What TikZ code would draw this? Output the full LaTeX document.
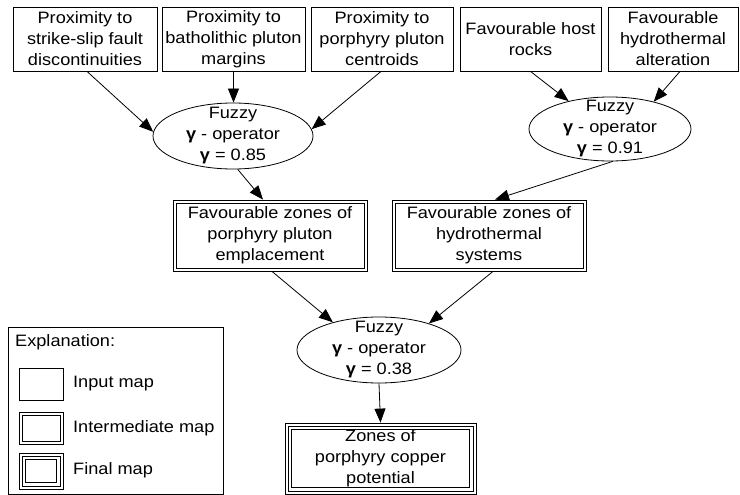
\documentclass[tikz,border=0pt]{standalone}
\usepackage{fontspec}
\setmainfont{Liberation Sans}[FakeStretch=1.1]
\usetikzlibrary{arrows.meta,shapes.geometric}

\begin{document}
\begin{tikzpicture}[x=1pt,y=-1pt,
  font=\fontsize{16.5}{21}\selectfont,
  every node/.style={align=center, inner sep=0pt},
  frame/.style={draw, line width=0.8pt},
  inbox/.style={frame, minimum height=64pt},
  midbox/.style={frame, minimum height=71pt},
  fuzzy/.style={draw, ellipse, line width=0.8pt, inner xsep=-60pt, inner ysep=-40pt},
  link/.style={-{Triangle[length=14pt,width=11pt]}, line width=0.8pt},
  legtext/.style={anchor=west}
]
\useasboundingbox (0,0) rectangle (740,495);

% inner frame line, inset from a box's outer border
\def\inset#1#2{%
  \draw[line width=0.8pt] ([shift={(#2pt,-#2pt)}]#1.north west)
    rectangle ([shift={(-#2pt,#2pt)}]#1.south east);}

% input maps
\node[inbox, minimum width=144pt] (b1) at (85,39)
  {Proximity to\\strike-slip fault\\discontinuities};
\node[inbox, minimum width=143pt] (b2) at (233.5,39)
  {Proximity to\\batholithic pluton\\margins};
\node[inbox, minimum width=142pt] (b3) at (382,39)
  {Proximity to\\porphyry pluton\\centroids};
\node[inbox, minimum width=141pt] (b4) at (530.5,39)
  {Favourable host\\rocks};
\node[inbox, minimum width=130pt] (b5) at (673,39)
  {Favourable\\hydrothermal\\alteration};

% fuzzy gamma operators
\node[fuzzy, minimum width=160pt, minimum height=66pt] (e1) at (233,136)
  {Fuzzy\\\textbf{γ} - operator\\\textbf{γ} = 0.85};
\node[fuzzy, minimum width=162pt, minimum height=64pt] (e2) at (610,129)
  {Fuzzy\\\textbf{γ} - operator\\\textbf{γ} = 0.91};
\node[fuzzy, minimum width=164pt, minimum height=66pt] (e3) at (379,350)
  {Fuzzy\\\textbf{γ} - operator\\\textbf{γ} = 0.38};

% intermediate maps (double frame)
\node[midbox, minimum width=194pt] (iA) at (270,235.5)
  {Favourable zones of\\porphyry pluton\\emplacement};
\inset{iA}{3.3}
\node[midbox, minimum width=194pt] (iB) at (489,235.5)
  {Favourable zones of\\hydrothermal\\systems};
\inset{iB}{3.3}

% final map (triple frame)
\node[midbox, minimum width=191pt] (fin) at (380.5,458.5)
  {Zones of\\porphyry copper\\potential};
\inset{fin}{3.3}
\inset{fin}{6.6}

% connectors
\draw[link] ([xshift=2pt]b1.south) -- (e1.177);
\draw[link] (b2.south) -- (b2.south |- e1.north);
\draw[link] ([xshift=-1pt]b3.south) -- (e1.5);
\draw[link] (b4.south) -- (e2.146);
\draw[link] ([xshift=7pt]b5.south) -- (e2.32);
\draw[link] (e1.-82) -- ([xshift=-7pt]iA.north);
\draw[link] (e2.-85) -- ([xshift=6pt]iB.north);
\draw[link] ([xshift=2pt]iA.south) -- (e3.149);
\draw[link] ([xshift=4pt]iB.south) -- (e3.28);
\draw[link] (e3.south) -- (fin.north);

% explanation panel
\node[frame, minimum width=215pt, minimum height=167pt] (legend) at (115.5,410.5) {};
\node[legtext] (legtitle) at (15,342) {Explanation:};
\node[frame, minimum width=44pt, minimum height=32pt] (keyin) at (41,384) {};
\node[frame, minimum width=44pt, minimum height=32pt] (keymid) at (41,428) {};
\inset{keymid}{3.3}
\node[frame, minimum width=44pt, minimum height=36pt] (keyfin) at (41,471) {};
\inset{keyfin}{3.3}
\inset{keyfin}{6.6}
\node[legtext] (lblin) at (73,384) {Input map};
\node[legtext] (lblmid) at (73,428) {Intermediate map};
\node[legtext] (lblfin) at (73,470) {Final map};
\end{tikzpicture}
\end{document}
